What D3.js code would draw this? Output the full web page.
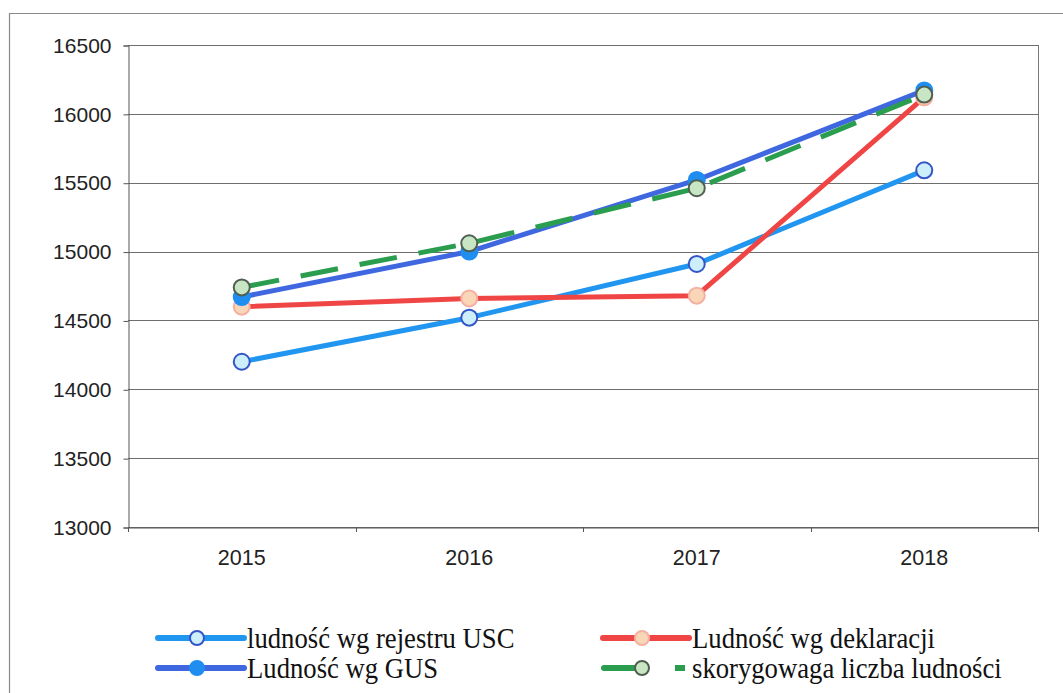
<!DOCTYPE html>
<html><head><meta charset="utf-8">
<script src="https://cdn.jsdelivr.net/npm/d3@7"></script>
<style>body{margin:0;background:#fff}svg{display:block}</style>
</head><body>
<svg id="c" width="1063" height="693"></svg>
<script>
const years = ["2015","2016","2017","2018"];
const usc = [14200, 14520, 14910, 15590];
const deklaracje = [14600, 14660, 14680, 16120];
const gus = [14670, 15000, 15520, 16170];
const skorygowana = [14740, 15060, 15460, 16140];
const yTicks = [13000, 13500, 14000, 14500, 15000, 15500, 16000, 16500];

const series = [
  {name:"ludność wg rejestru USC", values:usc, color:"#2196F0", mFill:"#cdeefb", mStroke:"#3355c8", dash:null},
  {name:"Ludność wg deklaracji", values:deklaracje, color:"#F04545", mFill:"#f9d6b8", mStroke:"#f5b0a0", dash:null},
  {name:"Ludność wg GUS", values:gus, color:"#3F68E0", mFill:"#1f8ef0", mStroke:"#1f8ef0", dash:null},
  {name:"skorygowaga liczba ludności", values:skorygowana, color:"#2a9e4e", mFill:"#c9e6c4", mStroke:"#4f5f50", dash:"38,22"}
];

const svg = d3.select("#c");
const L=128, R=1038, T=45, B=527;
const x = d3.scaleBand().domain(years).range([L,R]);
const y = d3.scaleLinear().domain([13000,16500]).range([B,T]);

// outer frame
svg.append("path").attr("d",`M9.5,693 V13.5 H1063`).attr("fill","none").attr("stroke","#8a8a8a").attr("stroke-width",1.2);

// gridlines
svg.append("g").selectAll("line").data(yTicks).join("line")
  .attr("x1",L).attr("x2",R).attr("y1",d=>Math.round(y(d))+0.5).attr("y2",d=>Math.round(y(d))+0.5)
  .attr("stroke","#6e6e6e").attr("stroke-width",1.2);
svg.append("line").attr("x1",R+0.5).attr("x2",R+0.5).attr("y1",T).attr("y2",B+1).attr("stroke","#7a7a7a");

// y axis
const ya = svg.append("g").attr("transform",`translate(${L+0.5},0.5)`)
  .call(d3.axisLeft(y).tickValues(yTicks).tickSize(5).tickPadding(12).tickFormat(d3.format("d")));
ya.select(".domain").attr("stroke","#555");
ya.selectAll(".tick line").attr("stroke","#555");
ya.selectAll("text").attr("font-family","Liberation Sans, Arial, sans-serif").attr("font-size",21).attr("fill","#222");

// x axis
const xa = svg.append("g").attr("transform",`translate(0,${B+0.5})`)
  .call(d3.axisBottom(x).tickSize(0).tickPadding(22));
xa.select(".domain").attr("stroke","#555");
xa.selectAll("text").attr("font-family","Liberation Sans, Arial, sans-serif").attr("font-size",21.5).attr("fill","#222");
// category boundary ticks
const bounds = years.map(d=>x(d)).concat([R]);
svg.append("g").selectAll("line").data(bounds).join("line")
  .attr("x1",d=>Math.round(d)+0.5).attr("x2",d=>Math.round(d)+0.5).attr("y1",B).attr("y2",B+5)
  .attr("stroke","#555");

const cx = d=>x(d)+x.bandwidth()/2;
const line = d3.line().x((d,i)=>cx(years[i])).y(d=>y(d));

series.forEach(s=>{
  const g = svg.append("g");
  g.append("path").attr("d",line(s.values)).attr("fill","none").attr("stroke",s.color)
    .attr("stroke-width",5).attr("stroke-linejoin","round").attr("stroke-dasharray",s.dash);
  g.selectAll("circle").data(s.values).join("circle")
    .attr("cx",(d,i)=>cx(years[i])).attr("cy",d=>y(d)).attr("r",8)
    .attr("fill",s.mFill).attr("stroke",s.mStroke).attr("stroke-width",2);
});

// legend
const legPos = [[155,638],[600,638],[155,668],[600,668]];
legPos.forEach(([lx,ly],si)=>{
  const s = series[si];
  const g = svg.append("g").attr("transform",`translate(${lx},${ly})`);
  if (s.dash){
    g.append("line").attr("x1",4).attr("x2",34).attr("y1",0).attr("y2",0).attr("stroke",s.color).attr("stroke-width",6).attr("stroke-linecap","round");
    g.append("line").attr("x1",75).attr("x2",85).attr("y1",0).attr("y2",0).attr("stroke",s.color).attr("stroke-width",6);
    g.append("circle").attr("cx",42).attr("cy",0).attr("r",7).attr("fill",s.mFill).attr("stroke",s.mStroke).attr("stroke-width",2);
  } else {
    g.append("line").attr("x1",3).attr("x2",89).attr("y1",0).attr("y2",0).attr("stroke",s.color).attr("stroke-width",6).attr("stroke-linecap","round");
    g.append("circle").attr("cx",42).attr("cy",0).attr("r",7).attr("fill",s.mFill).attr("stroke",s.mStroke).attr("stroke-width",2);
  }
  g.append("text").attr("transform","translate(92,0) scale(0.92,1)").attr("dy","0.33em")
    .attr("font-family","Liberation Serif, Times New Roman, serif").attr("font-size",29).attr("fill","#111")
    .text(s.name);
});
</script>
</body></html>
